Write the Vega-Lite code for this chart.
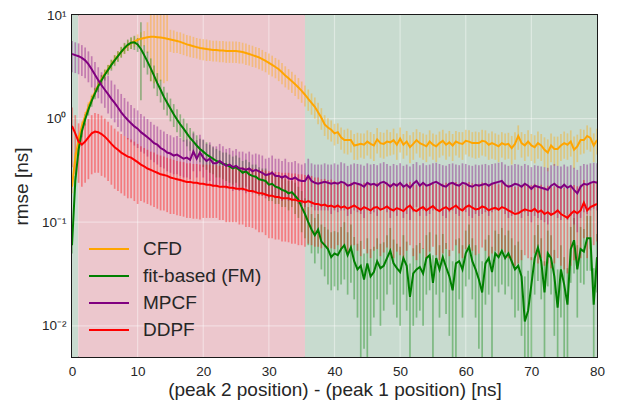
{
  "$schema": "https://vega.github.io/schema/vega-lite/v6.json",
  "width": 525,
  "height": 342,
  "autosize": "none",
  "padding": {"left": 72, "top": 15, "right": 26, "bottom": 58},
  "background": "white",
  "config": {
    "font": "Liberation Sans",
    "view": {"stroke": "#1a1a1a", "strokeWidth": 2},
    "axis": {
      "grid": false,
      "ticks": false,
      "domain": false,
      "labelFlush": false,
      "labelColor": "#262626",
      "titleColor": "#262626",
      "labelFontSize": 13.5,
      "titleFontSize": 19,
      "titleFontWeight": "normal"
    }
  },
  "datasets": {
    "regions": [
      {"a": 0, "b": 0.95, "zone": "outside"},
      {"a": 0.95, "b": 35.5, "zone": "overlap"},
      {"a": 35.5, "b": 80, "zone": "outside"}
    ],
    "xgrid": [{"gx": 10}, {"gx": 20}, {"gx": 30}, {"gx": 40}, {"gx": 50}, {"gx": 60}, {"gx": 70}],
    "ygrid": [{"gy": 0.01}, {"gy": 0.1}, {"gy": 1}],
    "rmse": [
      {"m":"CFD","x":0,"y":0.22,"lo":0.19,"hi":0.25},
      {"m":"CFD","x":0.5,"y":0.42,"lo":0.37,"hi":0.47},
      {"m":"CFD","x":1,"y":0.62,"lo":0.55,"hi":0.69},
      {"m":"CFD","x":1.5,"y":0.85,"lo":0.76,"hi":0.94},
      {"m":"CFD","x":2,"y":1.05,"lo":0.94,"hi":1.16},
      {"m":"CFD","x":2.5,"y":1.3,"lo":1.16,"hi":1.44},
      {"m":"CFD","x":3,"y":1.55,"lo":1.39,"hi":1.71},
      {"m":"CFD","x":3.5,"y":1.8,"lo":1.61,"hi":1.99},
      {"m":"CFD","x":4,"y":2.1,"lo":1.88,"hi":2.32},
      {"m":"CFD","x":4.5,"y":2.4,"lo":2.15,"hi":2.65},
      {"m":"CFD","x":5,"y":2.7,"lo":2.42,"hi":2.98},
      {"m":"CFD","x":5.5,"y":3.0,"lo":2.69,"hi":3.31},
      {"m":"CFD","x":6,"y":3.35,"lo":3.0,"hi":3.7},
      {"m":"CFD","x":6.5,"y":3.7,"lo":3.3,"hi":4.1},
      {"m":"CFD","x":7,"y":4.05,"lo":3.6,"hi":4.5},
      {"m":"CFD","x":7.5,"y":4.4,"lo":3.9,"hi":4.9},
      {"m":"CFD","x":8,"y":4.75,"lo":4.2,"hi":5.3},
      {"m":"CFD","x":8.5,"y":5.1,"lo":4.5,"hi":5.7},
      {"m":"CFD","x":9,"y":5.35,"lo":4.7,"hi":6.0},
      {"m":"CFD","x":9.5,"y":5.55,"lo":4.9,"hi":6.2},
      {"m":"CFD","x":10,"y":5.75,"lo":5.0,"hi":6.5},
      {"m":"CFD","x":10.5,"y":5.9,"lo":5.0,"hi":6.8},
      {"m":"CFD","x":11,"y":6.0,"lo":5.0,"hi":7.0},
      {"m":"CFD","x":11.5,"y":6.1,"lo":4.3,"hi":8.5},
      {"m":"CFD","x":12,"y":6.15,"lo":2.3,"hi":12.5},
      {"m":"CFD","x":12.5,"y":6.15,"lo":2.2,"hi":13},
      {"m":"CFD","x":13,"y":6.1,"lo":2.2,"hi":13},
      {"m":"CFD","x":13.5,"y":6.05,"lo":2.3,"hi":12.5},
      {"m":"CFD","x":14,"y":6.0,"lo":2.2,"hi":12.8},
      {"m":"CFD","x":14.5,"y":5.9,"lo":2.3,"hi":12},
      {"m":"CFD","x":15,"y":5.8,"lo":4.4,"hi":7.2},
      {"m":"CFD","x":15.5,"y":5.7,"lo":4.3,"hi":7.1},
      {"m":"CFD","x":16,"y":5.6,"lo":4.3,"hi":6.9},
      {"m":"CFD","x":16.5,"y":5.5,"lo":4.2,"hi":6.8},
      {"m":"CFD","x":17,"y":5.35,"lo":4.1,"hi":6.6},
      {"m":"CFD","x":17.5,"y":5.2,"lo":4.0,"hi":6.4},
      {"m":"CFD","x":18,"y":5.1,"lo":3.9,"hi":6.3},
      {"m":"CFD","x":18.5,"y":5.0,"lo":3.85,"hi":6.15},
      {"m":"CFD","x":19,"y":4.9,"lo":3.8,"hi":6.0},
      {"m":"CFD","x":19.5,"y":4.8,"lo":3.7,"hi":5.9},
      {"m":"CFD","x":20,"y":4.75,"lo":3.65,"hi":5.85},
      {"m":"CFD","x":20.5,"y":4.7,"lo":3.6,"hi":5.8},
      {"m":"CFD","x":21,"y":4.65,"lo":3.6,"hi":5.7},
      {"m":"CFD","x":21.5,"y":4.6,"lo":3.55,"hi":5.65},
      {"m":"CFD","x":22,"y":4.6,"lo":3.55,"hi":5.65},
      {"m":"CFD","x":22.5,"y":4.55,"lo":3.5,"hi":5.6},
      {"m":"CFD","x":23,"y":4.55,"lo":3.5,"hi":5.6},
      {"m":"CFD","x":23.5,"y":4.5,"lo":3.45,"hi":5.55},
      {"m":"CFD","x":24,"y":4.5,"lo":3.45,"hi":5.55},
      {"m":"CFD","x":24.5,"y":4.5,"lo":3.45,"hi":5.55},
      {"m":"CFD","x":25,"y":4.5,"lo":3.45,"hi":5.55},
      {"m":"CFD","x":25.5,"y":4.45,"lo":3.4,"hi":5.5},
      {"m":"CFD","x":26,"y":4.4,"lo":3.4,"hi":5.4},
      {"m":"CFD","x":26.5,"y":4.3,"lo":3.3,"hi":5.3},
      {"m":"CFD","x":27,"y":4.2,"lo":3.25,"hi":5.15},
      {"m":"CFD","x":27.5,"y":4.1,"lo":3.15,"hi":5.05},
      {"m":"CFD","x":28,"y":4.0,"lo":3.1,"hi":4.9},
      {"m":"CFD","x":28.5,"y":3.9,"lo":3.0,"hi":4.8},
      {"m":"CFD","x":29,"y":3.75,"lo":2.9,"hi":4.6},
      {"m":"CFD","x":29.5,"y":3.6,"lo":2.8,"hi":4.4},
      {"m":"CFD","x":30,"y":3.45,"lo":2.65,"hi":4.25},
      {"m":"CFD","x":30.5,"y":3.3,"lo":2.55,"hi":4.05},
      {"m":"CFD","x":31,"y":3.15,"lo":2.45,"hi":3.85},
      {"m":"CFD","x":31.5,"y":3.0,"lo":2.3,"hi":3.7},
      {"m":"CFD","x":32,"y":2.8,"lo":2.15,"hi":3.45},
      {"m":"CFD","x":32.5,"y":2.6,"lo":2.0,"hi":3.2},
      {"m":"CFD","x":33,"y":2.45,"lo":1.9,"hi":3.0},
      {"m":"CFD","x":33.5,"y":2.3,"lo":1.77,"hi":2.83},
      {"m":"CFD","x":34,"y":2.15,"lo":1.65,"hi":2.65},
      {"m":"CFD","x":34.5,"y":2.0,"lo":1.54,"hi":2.46},
      {"m":"CFD","x":35,"y":1.85,"lo":1.42,"hi":2.28},
      {"m":"CFD","x":35.5,"y":1.7,"lo":1.31,"hi":2.09},
      {"m":"CFD","x":36,"y":1.55,"lo":1.19,"hi":1.91},
      {"m":"CFD","x":36.5,"y":1.42,"lo":1.09,"hi":1.75},
      {"m":"CFD","x":37,"y":1.3,"lo":1.0,"hi":1.6},
      {"m":"CFD","x":37.5,"y":1.15,"lo":0.88,"hi":1.42},
      {"m":"CFD","x":38,"y":1.02,"lo":0.78,"hi":1.26},
      {"m":"CFD","x":38.5,"y":0.88,"lo":0.68,"hi":1.08},
      {"m":"CFD","x":39,"y":0.82,"lo":0.63,"hi":1.01},
      {"m":"CFD","x":39.5,"y":0.78,"lo":0.6,"hi":0.96},
      {"m":"CFD","x":40,"y":0.72,"lo":0.55,"hi":0.89},
      {"m":"CFD","x":40.5,"y":0.74,"lo":0.57,"hi":0.9},
      {"m":"CFD","x":41,"y":0.66,"lo":0.5,"hi":0.82},
      {"m":"CFD","x":41.5,"y":0.62,"lo":0.46,"hi":0.78},
      {"m":"CFD","x":42,"y":0.62,"lo":0.45,"hi":0.8},
      {"m":"CFD","x":42.5,"y":0.62,"lo":0.47,"hi":0.77},
      {"m":"CFD","x":43,"y":0.55,"lo":0.4,"hi":0.71},
      {"m":"CFD","x":43.5,"y":0.56,"lo":0.4,"hi":0.73},
      {"m":"CFD","x":44,"y":0.57,"lo":0.42,"hi":0.72},
      {"m":"CFD","x":44.5,"y":0.56,"lo":0.41,"hi":0.72},
      {"m":"CFD","x":45,"y":0.6,"lo":0.44,"hi":0.77},
      {"m":"CFD","x":45.5,"y":0.57,"lo":0.41,"hi":0.74},
      {"m":"CFD","x":46,"y":0.55,"lo":0.39,"hi":0.71},
      {"m":"CFD","x":46.5,"y":0.63,"lo":0.46,"hi":0.81},
      {"m":"CFD","x":47,"y":0.58,"lo":0.42,"hi":0.74},
      {"m":"CFD","x":47.5,"y":0.57,"lo":0.41,"hi":0.73},
      {"m":"CFD","x":48,"y":0.6,"lo":0.43,"hi":0.78},
      {"m":"CFD","x":48.5,"y":0.59,"lo":0.44,"hi":0.74},
      {"m":"CFD","x":49,"y":0.62,"lo":0.45,"hi":0.8},
      {"m":"CFD","x":49.5,"y":0.56,"lo":0.4,"hi":0.72},
      {"m":"CFD","x":50,"y":0.64,"lo":0.47,"hi":0.82},
      {"m":"CFD","x":50.5,"y":0.56,"lo":0.41,"hi":0.71},
      {"m":"CFD","x":51,"y":0.6,"lo":0.44,"hi":0.76},
      {"m":"CFD","x":51.5,"y":0.53,"lo":0.37,"hi":0.69},
      {"m":"CFD","x":52,"y":0.57,"lo":0.4,"hi":0.74},
      {"m":"CFD","x":52.5,"y":0.62,"lo":0.46,"hi":0.79},
      {"m":"CFD","x":53,"y":0.58,"lo":0.42,"hi":0.74},
      {"m":"CFD","x":53.5,"y":0.56,"lo":0.4,"hi":0.72},
      {"m":"CFD","x":54,"y":0.54,"lo":0.38,"hi":0.7},
      {"m":"CFD","x":54.5,"y":0.6,"lo":0.43,"hi":0.77},
      {"m":"CFD","x":55,"y":0.56,"lo":0.4,"hi":0.72},
      {"m":"CFD","x":55.5,"y":0.54,"lo":0.38,"hi":0.7},
      {"m":"CFD","x":56,"y":0.58,"lo":0.42,"hi":0.75},
      {"m":"CFD","x":56.5,"y":0.61,"lo":0.44,"hi":0.78},
      {"m":"CFD","x":57,"y":0.56,"lo":0.4,"hi":0.72},
      {"m":"CFD","x":57.5,"y":0.59,"lo":0.43,"hi":0.76},
      {"m":"CFD","x":58,"y":0.55,"lo":0.39,"hi":0.71},
      {"m":"CFD","x":58.5,"y":0.6,"lo":0.44,"hi":0.76},
      {"m":"CFD","x":59,"y":0.58,"lo":0.42,"hi":0.74},
      {"m":"CFD","x":59.5,"y":0.57,"lo":0.4,"hi":0.74},
      {"m":"CFD","x":60,"y":0.61,"lo":0.45,"hi":0.78},
      {"m":"CFD","x":60.5,"y":0.6,"lo":0.43,"hi":0.77},
      {"m":"CFD","x":61,"y":0.58,"lo":0.42,"hi":0.74},
      {"m":"CFD","x":61.5,"y":0.58,"lo":0.41,"hi":0.75},
      {"m":"CFD","x":62,"y":0.58,"lo":0.42,"hi":0.74},
      {"m":"CFD","x":62.5,"y":0.61,"lo":0.44,"hi":0.78},
      {"m":"CFD","x":63,"y":0.6,"lo":0.43,"hi":0.77},
      {"m":"CFD","x":63.5,"y":0.56,"lo":0.4,"hi":0.72},
      {"m":"CFD","x":64,"y":0.58,"lo":0.41,"hi":0.75},
      {"m":"CFD","x":64.5,"y":0.56,"lo":0.4,"hi":0.72},
      {"m":"CFD","x":65,"y":0.54,"lo":0.38,"hi":0.7},
      {"m":"CFD","x":65.5,"y":0.58,"lo":0.42,"hi":0.74},
      {"m":"CFD","x":66,"y":0.56,"lo":0.4,"hi":0.72},
      {"m":"CFD","x":66.5,"y":0.57,"lo":0.41,"hi":0.73},
      {"m":"CFD","x":67,"y":0.52,"lo":0.36,"hi":0.68},
      {"m":"CFD","x":67.5,"y":0.57,"lo":0.4,"hi":0.74},
      {"m":"CFD","x":68,"y":0.68,"lo":0.5,"hi":0.86},
      {"m":"CFD","x":68.5,"y":0.58,"lo":0.42,"hi":0.74},
      {"m":"CFD","x":69,"y":0.55,"lo":0.39,"hi":0.71},
      {"m":"CFD","x":69.5,"y":0.6,"lo":0.43,"hi":0.77},
      {"m":"CFD","x":70,"y":0.55,"lo":0.39,"hi":0.71},
      {"m":"CFD","x":70.5,"y":0.53,"lo":0.37,"hi":0.69},
      {"m":"CFD","x":71,"y":0.58,"lo":0.41,"hi":0.75},
      {"m":"CFD","x":71.5,"y":0.55,"lo":0.39,"hi":0.71},
      {"m":"CFD","x":72,"y":0.5,"lo":0.34,"hi":0.66},
      {"m":"CFD","x":72.5,"y":0.47,"lo":0.31,"hi":0.63},
      {"m":"CFD","x":73,"y":0.55,"lo":0.38,"hi":0.72},
      {"m":"CFD","x":73.5,"y":0.51,"lo":0.35,"hi":0.67},
      {"m":"CFD","x":74,"y":0.51,"lo":0.35,"hi":0.67},
      {"m":"CFD","x":74.5,"y":0.55,"lo":0.39,"hi":0.71},
      {"m":"CFD","x":75,"y":0.58,"lo":0.41,"hi":0.75},
      {"m":"CFD","x":75.5,"y":0.56,"lo":0.4,"hi":0.72},
      {"m":"CFD","x":76,"y":0.6,"lo":0.43,"hi":0.77},
      {"m":"CFD","x":76.5,"y":0.5,"lo":0.33,"hi":0.67},
      {"m":"CFD","x":77,"y":0.54,"lo":0.38,"hi":0.7},
      {"m":"CFD","x":77.5,"y":0.62,"lo":0.45,"hi":0.79},
      {"m":"CFD","x":78,"y":0.62,"lo":0.46,"hi":0.78},
      {"m":"CFD","x":78.5,"y":0.68,"lo":0.5,"hi":0.86},
      {"m":"CFD","x":79,"y":0.65,"lo":0.48,"hi":0.82},
      {"m":"CFD","x":79.5,"y":0.55,"lo":0.38,"hi":0.72},
      {"m":"CFD","x":80,"y":0.62,"lo":0.45,"hi":0.8},

      {"m":"fit-based (FM)","x":0,"y":0.06,"lo":0.05,"hi":0.07},
      {"m":"fit-based (FM)","x":0.5,"y":0.25,"lo":0.22,"hi":0.28},
      {"m":"fit-based (FM)","x":1,"y":0.5,"lo":0.44,"hi":0.56},
      {"m":"fit-based (FM)","x":1.5,"y":0.75,"lo":0.66,"hi":0.84},
      {"m":"fit-based (FM)","x":2,"y":0.98,"lo":0.86,"hi":1.1},
      {"m":"fit-based (FM)","x":2.5,"y":1.22,"lo":1.07,"hi":1.37},
      {"m":"fit-based (FM)","x":3,"y":1.48,"lo":1.3,"hi":1.66},
      {"m":"fit-based (FM)","x":3.5,"y":1.75,"lo":1.54,"hi":1.96},
      {"m":"fit-based (FM)","x":4,"y":2.05,"lo":1.8,"hi":2.3},
      {"m":"fit-based (FM)","x":4.5,"y":2.35,"lo":2.07,"hi":2.63},
      {"m":"fit-based (FM)","x":5,"y":2.65,"lo":2.33,"hi":2.97},
      {"m":"fit-based (FM)","x":5.5,"y":2.95,"lo":2.6,"hi":3.3},
      {"m":"fit-based (FM)","x":6,"y":3.3,"lo":2.9,"hi":3.7},
      {"m":"fit-based (FM)","x":6.5,"y":3.65,"lo":3.21,"hi":4.09},
      {"m":"fit-based (FM)","x":7,"y":4.0,"lo":3.52,"hi":4.48},
      {"m":"fit-based (FM)","x":7.5,"y":4.4,"lo":3.87,"hi":4.93},
      {"m":"fit-based (FM)","x":8,"y":4.8,"lo":4.22,"hi":5.38},
      {"m":"fit-based (FM)","x":8.5,"y":5.15,"lo":4.5,"hi":5.8},
      {"m":"fit-based (FM)","x":9,"y":5.4,"lo":4.7,"hi":6.1},
      {"m":"fit-based (FM)","x":9.5,"y":5.45,"lo":4.6,"hi":6.3},
      {"m":"fit-based (FM)","x":10,"y":5.2,"lo":4.4,"hi":6.0},
      {"m":"fit-based (FM)","x":10.5,"y":4.7,"lo":1.5,"hi":8.5},
      {"m":"fit-based (FM)","x":11,"y":4.1,"lo":3.1,"hi":5.1},
      {"m":"fit-based (FM)","x":11.5,"y":3.55,"lo":2.66,"hi":4.44},
      {"m":"fit-based (FM)","x":12,"y":3.05,"lo":2.29,"hi":3.81},
      {"m":"fit-based (FM)","x":12.5,"y":2.6,"lo":1.95,"hi":3.25},
      {"m":"fit-based (FM)","x":13,"y":2.2,"lo":1.65,"hi":2.75},
      {"m":"fit-based (FM)","x":13.5,"y":1.9,"lo":1.43,"hi":2.38},
      {"m":"fit-based (FM)","x":14,"y":1.62,"lo":1.22,"hi":2.03},
      {"m":"fit-based (FM)","x":14.5,"y":1.42,"lo":1.07,"hi":1.78},
      {"m":"fit-based (FM)","x":15,"y":1.25,"lo":0.94,"hi":1.56},
      {"m":"fit-based (FM)","x":15.5,"y":1.1,"lo":0.83,"hi":1.38},
      {"m":"fit-based (FM)","x":16,"y":0.98,"lo":0.74,"hi":1.23},
      {"m":"fit-based (FM)","x":16.5,"y":0.88,"lo":0.66,"hi":1.1},
      {"m":"fit-based (FM)","x":17,"y":0.8,"lo":0.6,"hi":1.0},
      {"m":"fit-based (FM)","x":17.5,"y":0.72,"lo":0.54,"hi":0.9},
      {"m":"fit-based (FM)","x":18,"y":0.65,"lo":0.49,"hi":0.81},
      {"m":"fit-based (FM)","x":18.5,"y":0.6,"lo":0.45,"hi":0.75},
      {"m":"fit-based (FM)","x":19,"y":0.55,"lo":0.41,"hi":0.69},
      {"m":"fit-based (FM)","x":19.5,"y":0.51,"lo":0.38,"hi":0.64},
      {"m":"fit-based (FM)","x":20,"y":0.48,"lo":0.34,"hi":0.62},
      {"m":"fit-based (FM)","x":20.5,"y":0.45,"lo":0.32,"hi":0.59},
      {"m":"fit-based (FM)","x":21,"y":0.43,"lo":0.3,"hi":0.56},
      {"m":"fit-based (FM)","x":21.5,"y":0.41,"lo":0.29,"hi":0.53},
      {"m":"fit-based (FM)","x":22,"y":0.39,"lo":0.27,"hi":0.51},
      {"m":"fit-based (FM)","x":22.5,"y":0.38,"lo":0.27,"hi":0.49},
      {"m":"fit-based (FM)","x":23,"y":0.365,"lo":0.26,"hi":0.47},
      {"m":"fit-based (FM)","x":23.5,"y":0.36,"lo":0.25,"hi":0.47},
      {"m":"fit-based (FM)","x":24,"y":0.345,"lo":0.24,"hi":0.45},
      {"m":"fit-based (FM)","x":24.5,"y":0.33,"lo":0.23,"hi":0.43},
      {"m":"fit-based (FM)","x":25,"y":0.34,"lo":0.24,"hi":0.44},
      {"m":"fit-based (FM)","x":25.5,"y":0.32,"lo":0.22,"hi":0.42},
      {"m":"fit-based (FM)","x":26,"y":0.3,"lo":0.21,"hi":0.39},
      {"m":"fit-based (FM)","x":26.5,"y":0.31,"lo":0.22,"hi":0.4},
      {"m":"fit-based (FM)","x":27,"y":0.29,"lo":0.2,"hi":0.38},
      {"m":"fit-based (FM)","x":27.5,"y":0.28,"lo":0.2,"hi":0.36},
      {"m":"fit-based (FM)","x":28,"y":0.275,"lo":0.19,"hi":0.36},
      {"m":"fit-based (FM)","x":28.5,"y":0.26,"lo":0.18,"hi":0.34},
      {"m":"fit-based (FM)","x":29,"y":0.255,"lo":0.18,"hi":0.33},
      {"m":"fit-based (FM)","x":29.5,"y":0.25,"lo":0.18,"hi":0.33},
      {"m":"fit-based (FM)","x":30,"y":0.23,"lo":0.16,"hi":0.3},
      {"m":"fit-based (FM)","x":30.5,"y":0.235,"lo":0.16,"hi":0.31},
      {"m":"fit-based (FM)","x":31,"y":0.22,"lo":0.15,"hi":0.29},
      {"m":"fit-based (FM)","x":31.5,"y":0.215,"lo":0.15,"hi":0.28},
      {"m":"fit-based (FM)","x":32,"y":0.205,"lo":0.14,"hi":0.27},
      {"m":"fit-based (FM)","x":32.5,"y":0.2,"lo":0.14,"hi":0.26},
      {"m":"fit-based (FM)","x":33,"y":0.19,"lo":0.13,"hi":0.25},
      {"m":"fit-based (FM)","x":33.5,"y":0.195,"lo":0.14,"hi":0.25},
      {"m":"fit-based (FM)","x":34,"y":0.18,"lo":0.12,"hi":0.24},
      {"m":"fit-based (FM)","x":34.5,"y":0.165,"lo":0.11,"hi":0.22},
      {"m":"fit-based (FM)","x":35,"y":0.14,"lo":0.08,"hi":0.2},
      {"m":"fit-based (FM)","x":35.5,"y":0.12,"lo":0.07,"hi":0.17},
      {"m":"fit-based (FM)","x":36,"y":0.1,"lo":0.06,"hi":0.14},
      {"m":"fit-based (FM)","x":36.5,"y":0.085,"lo":0.05,"hi":0.12},
      {"m":"fit-based (FM)","x":37,"y":0.075,"lo":0.04,"hi":0.11},
      {"m":"fit-based (FM)","x":37.5,"y":0.085,"lo":0.05,"hi":0.12},
      {"m":"fit-based (FM)","x":38,"y":0.065,"lo":0.035,"hi":0.095},
      {"m":"fit-based (FM)","x":38.5,"y":0.06,"lo":0.03,"hi":0.09},
      {"m":"fit-based (FM)","x":39,"y":0.055,"lo":0.025,"hi":0.085},
      {"m":"fit-based (FM)","x":39.5,"y":0.046,"lo":0.022,"hi":0.08},
      {"m":"fit-based (FM)","x":40,"y":0.05,"lo":0.024,"hi":0.082},
      {"m":"fit-based (FM)","x":40.5,"y":0.048,"lo":0.022,"hi":0.08},
      {"m":"fit-based (FM)","x":41,"y":0.055,"lo":0.025,"hi":0.09},
      {"m":"fit-based (FM)","x":41.5,"y":0.06,"lo":0.028,"hi":0.1},
      {"m":"fit-based (FM)","x":42,"y":0.048,"lo":0.02,"hi":0.08},
      {"m":"fit-based (FM)","x":42.5,"y":0.057,"lo":0.026,"hi":0.095},
      {"m":"fit-based (FM)","x":43,"y":0.042,"lo":0.018,"hi":0.072},
      {"m":"fit-based (FM)","x":43.5,"y":0.035,"lo":0.012,"hi":0.062},
      {"m":"fit-based (FM)","x":44,"y":0.038,"lo":0.001,"hi":0.066},
      {"m":"fit-based (FM)","x":44.5,"y":0.028,"lo":0.006,"hi":0.05},
      {"m":"fit-based (FM)","x":45,"y":0.04,"lo":0.001,"hi":0.07},
      {"m":"fit-based (FM)","x":45.5,"y":0.03,"lo":0.008,"hi":0.055},
      {"m":"fit-based (FM)","x":46,"y":0.033,"lo":0.012,"hi":0.058},
      {"m":"fit-based (FM)","x":46.5,"y":0.042,"lo":0.018,"hi":0.07},
      {"m":"fit-based (FM)","x":47,"y":0.036,"lo":0.01,"hi":0.062},
      {"m":"fit-based (FM)","x":47.5,"y":0.038,"lo":0.014,"hi":0.064},
      {"m":"fit-based (FM)","x":48,"y":0.045,"lo":0.02,"hi":0.075},
      {"m":"fit-based (FM)","x":48.5,"y":0.053,"lo":0.025,"hi":0.088},
      {"m":"fit-based (FM)","x":49,"y":0.04,"lo":0.016,"hi":0.068},
      {"m":"fit-based (FM)","x":49.5,"y":0.036,"lo":0.012,"hi":0.062},
      {"m":"fit-based (FM)","x":50,"y":0.033,"lo":0.01,"hi":0.058},
      {"m":"fit-based (FM)","x":50.5,"y":0.045,"lo":0.02,"hi":0.075},
      {"m":"fit-based (FM)","x":51,"y":0.038,"lo":0.014,"hi":0.065},
      {"m":"fit-based (FM)","x":51.5,"y":0.019,"lo":0.001,"hi":0.04},
      {"m":"fit-based (FM)","x":52,"y":0.032,"lo":0.01,"hi":0.056},
      {"m":"fit-based (FM)","x":52.5,"y":0.035,"lo":0.012,"hi":0.06},
      {"m":"fit-based (FM)","x":53,"y":0.037,"lo":0.014,"hi":0.063},
      {"m":"fit-based (FM)","x":53.5,"y":0.032,"lo":0.01,"hi":0.056},
      {"m":"fit-based (FM)","x":54,"y":0.045,"lo":0.02,"hi":0.075},
      {"m":"fit-based (FM)","x":54.5,"y":0.048,"lo":0.022,"hi":0.08},
      {"m":"fit-based (FM)","x":55,"y":0.026,"lo":0.001,"hi":0.048},
      {"m":"fit-based (FM)","x":55.5,"y":0.045,"lo":0.02,"hi":0.076},
      {"m":"fit-based (FM)","x":56,"y":0.035,"lo":0.012,"hi":0.06},
      {"m":"fit-based (FM)","x":56.5,"y":0.046,"lo":0.021,"hi":0.077},
      {"m":"fit-based (FM)","x":57,"y":0.037,"lo":0.013,"hi":0.063},
      {"m":"fit-based (FM)","x":57.5,"y":0.03,"lo":0.008,"hi":0.054},
      {"m":"fit-based (FM)","x":58,"y":0.022,"lo":0.001,"hi":0.042},
      {"m":"fit-based (FM)","x":58.5,"y":0.04,"lo":0.001,"hi":0.068},
      {"m":"fit-based (FM)","x":59,"y":0.042,"lo":0.018,"hi":0.07},
      {"m":"fit-based (FM)","x":59.5,"y":0.035,"lo":0.012,"hi":0.06},
      {"m":"fit-based (FM)","x":60,"y":0.05,"lo":0.024,"hi":0.083},
      {"m":"fit-based (FM)","x":60.5,"y":0.058,"lo":0.028,"hi":0.095},
      {"m":"fit-based (FM)","x":61,"y":0.042,"lo":0.018,"hi":0.07},
      {"m":"fit-based (FM)","x":61.5,"y":0.035,"lo":0.012,"hi":0.06},
      {"m":"fit-based (FM)","x":62,"y":0.028,"lo":0.006,"hi":0.05},
      {"m":"fit-based (FM)","x":62.5,"y":0.021,"lo":0.001,"hi":0.042},
      {"m":"fit-based (FM)","x":63,"y":0.04,"lo":0.016,"hi":0.068},
      {"m":"fit-based (FM)","x":63.5,"y":0.045,"lo":0.02,"hi":0.075},
      {"m":"fit-based (FM)","x":64,"y":0.033,"lo":0.001,"hi":0.058},
      {"m":"fit-based (FM)","x":64.5,"y":0.05,"lo":0.024,"hi":0.083},
      {"m":"fit-based (FM)","x":65,"y":0.046,"lo":0.021,"hi":0.077},
      {"m":"fit-based (FM)","x":65.5,"y":0.053,"lo":0.025,"hi":0.088},
      {"m":"fit-based (FM)","x":66,"y":0.045,"lo":0.02,"hi":0.075},
      {"m":"fit-based (FM)","x":66.5,"y":0.05,"lo":0.024,"hi":0.083},
      {"m":"fit-based (FM)","x":67,"y":0.042,"lo":0.018,"hi":0.07},
      {"m":"fit-based (FM)","x":67.5,"y":0.035,"lo":0.012,"hi":0.06},
      {"m":"fit-based (FM)","x":68,"y":0.038,"lo":0.014,"hi":0.065},
      {"m":"fit-based (FM)","x":68.5,"y":0.03,"lo":0.008,"hi":0.054},
      {"m":"fit-based (FM)","x":69,"y":0.011,"lo":0.001,"hi":0.03},
      {"m":"fit-based (FM)","x":69.5,"y":0.014,"lo":0.001,"hi":0.034},
      {"m":"fit-based (FM)","x":70,"y":0.025,"lo":0.001,"hi":0.046},
      {"m":"fit-based (FM)","x":70.5,"y":0.045,"lo":0.02,"hi":0.075},
      {"m":"fit-based (FM)","x":71,"y":0.057,"lo":0.027,"hi":0.094},
      {"m":"fit-based (FM)","x":71.5,"y":0.042,"lo":0.018,"hi":0.07},
      {"m":"fit-based (FM)","x":72,"y":0.021,"lo":0.001,"hi":0.042},
      {"m":"fit-based (FM)","x":72.5,"y":0.05,"lo":0.024,"hi":0.083},
      {"m":"fit-based (FM)","x":73,"y":0.045,"lo":0.02,"hi":0.075},
      {"m":"fit-based (FM)","x":73.5,"y":0.03,"lo":0.008,"hi":0.054},
      {"m":"fit-based (FM)","x":74,"y":0.015,"lo":0.001,"hi":0.035},
      {"m":"fit-based (FM)","x":74.5,"y":0.035,"lo":0.012,"hi":0.06},
      {"m":"fit-based (FM)","x":75,"y":0.025,"lo":0.001,"hi":0.046},
      {"m":"fit-based (FM)","x":75.5,"y":0.016,"lo":0.001,"hi":0.036},
      {"m":"fit-based (FM)","x":76,"y":0.055,"lo":0.026,"hi":0.09},
      {"m":"fit-based (FM)","x":76.5,"y":0.067,"lo":0.032,"hi":0.11},
      {"m":"fit-based (FM)","x":77,"y":0.035,"lo":0.012,"hi":0.06},
      {"m":"fit-based (FM)","x":77.5,"y":0.055,"lo":0.026,"hi":0.09},
      {"m":"fit-based (FM)","x":78,"y":0.052,"lo":0.025,"hi":0.086},
      {"m":"fit-based (FM)","x":78.5,"y":0.07,"lo":0.034,"hi":0.115},
      {"m":"fit-based (FM)","x":79,"y":0.07,"lo":0.034,"hi":0.115},
      {"m":"fit-based (FM)","x":79.5,"y":0.016,"lo":0.001,"hi":0.036},
      {"m":"fit-based (FM)","x":80,"y":0.046,"lo":0.021,"hi":0.077},

      {"m":"MPCF","x":0,"y":4.2,"lo":2.8,"hi":5.6},
      {"m":"MPCF","x":0.5,"y":4.1,"lo":2.75,"hi":5.45},
      {"m":"MPCF","x":1,"y":4.0,"lo":2.68,"hi":5.32},
      {"m":"MPCF","x":1.5,"y":3.85,"lo":2.58,"hi":5.12},
      {"m":"MPCF","x":2,"y":3.65,"lo":2.45,"hi":4.85},
      {"m":"MPCF","x":2.5,"y":3.35,"lo":2.24,"hi":4.46},
      {"m":"MPCF","x":3,"y":3.0,"lo":2.0,"hi":4.0},
      {"m":"MPCF","x":3.5,"y":2.65,"lo":1.78,"hi":3.52},
      {"m":"MPCF","x":4,"y":2.35,"lo":1.57,"hi":3.13},
      {"m":"MPCF","x":4.5,"y":2.1,"lo":1.4,"hi":2.8},
      {"m":"MPCF","x":5,"y":1.9,"lo":1.27,"hi":2.53},
      {"m":"MPCF","x":5.5,"y":1.72,"lo":1.12,"hi":2.58},
      {"m":"MPCF","x":6,"y":1.55,"lo":1.0,"hi":2.33},
      {"m":"MPCF","x":6.5,"y":1.42,"lo":0.92,"hi":2.13},
      {"m":"MPCF","x":7,"y":1.28,"lo":0.83,"hi":1.92},
      {"m":"MPCF","x":7.5,"y":1.15,"lo":0.75,"hi":1.73},
      {"m":"MPCF","x":8,"y":1.05,"lo":0.68,"hi":1.58},
      {"m":"MPCF","x":8.5,"y":0.97,"lo":0.63,"hi":1.46},
      {"m":"MPCF","x":9,"y":0.9,"lo":0.59,"hi":1.35},
      {"m":"MPCF","x":9.5,"y":0.84,"lo":0.55,"hi":1.26},
      {"m":"MPCF","x":10,"y":0.8,"lo":0.52,"hi":1.2},
      {"m":"MPCF","x":10.5,"y":0.74,"lo":0.48,"hi":1.11},
      {"m":"MPCF","x":11,"y":0.7,"lo":0.46,"hi":1.05},
      {"m":"MPCF","x":11.5,"y":0.66,"lo":0.43,"hi":0.99},
      {"m":"MPCF","x":12,"y":0.62,"lo":0.4,"hi":0.93},
      {"m":"MPCF","x":12.5,"y":0.58,"lo":0.38,"hi":0.87},
      {"m":"MPCF","x":13,"y":0.56,"lo":0.36,"hi":0.84},
      {"m":"MPCF","x":13.5,"y":0.52,"lo":0.34,"hi":0.78},
      {"m":"MPCF","x":14,"y":0.5,"lo":0.33,"hi":0.75},
      {"m":"MPCF","x":14.5,"y":0.47,"lo":0.31,"hi":0.71},
      {"m":"MPCF","x":15,"y":0.46,"lo":0.3,"hi":0.69},
      {"m":"MPCF","x":15.5,"y":0.44,"lo":0.29,"hi":0.66},
      {"m":"MPCF","x":16,"y":0.45,"lo":0.29,"hi":0.68},
      {"m":"MPCF","x":16.5,"y":0.43,"lo":0.28,"hi":0.65},
      {"m":"MPCF","x":17,"y":0.41,"lo":0.27,"hi":0.62},
      {"m":"MPCF","x":17.5,"y":0.42,"lo":0.27,"hi":0.63},
      {"m":"MPCF","x":18,"y":0.4,"lo":0.26,"hi":0.6},
      {"m":"MPCF","x":18.5,"y":0.48,"lo":0.31,"hi":0.72},
      {"m":"MPCF","x":19,"y":0.41,"lo":0.27,"hi":0.62},
      {"m":"MPCF","x":19.5,"y":0.47,"lo":0.31,"hi":0.7},
      {"m":"MPCF","x":20,"y":0.42,"lo":0.27,"hi":0.63},
      {"m":"MPCF","x":20.5,"y":0.39,"lo":0.23,"hi":0.57},
      {"m":"MPCF","x":21,"y":0.41,"lo":0.25,"hi":0.59},
      {"m":"MPCF","x":21.5,"y":0.37,"lo":0.22,"hi":0.54},
      {"m":"MPCF","x":22,"y":0.37,"lo":0.22,"hi":0.54},
      {"m":"MPCF","x":22.5,"y":0.39,"lo":0.23,"hi":0.57},
      {"m":"MPCF","x":23,"y":0.37,"lo":0.22,"hi":0.54},
      {"m":"MPCF","x":23.5,"y":0.35,"lo":0.21,"hi":0.51},
      {"m":"MPCF","x":24,"y":0.36,"lo":0.22,"hi":0.52},
      {"m":"MPCF","x":24.5,"y":0.34,"lo":0.2,"hi":0.49},
      {"m":"MPCF","x":25,"y":0.35,"lo":0.21,"hi":0.51},
      {"m":"MPCF","x":25.5,"y":0.33,"lo":0.2,"hi":0.48},
      {"m":"MPCF","x":26,"y":0.33,"lo":0.2,"hi":0.48},
      {"m":"MPCF","x":26.5,"y":0.32,"lo":0.19,"hi":0.46},
      {"m":"MPCF","x":27,"y":0.33,"lo":0.2,"hi":0.48},
      {"m":"MPCF","x":27.5,"y":0.31,"lo":0.19,"hi":0.45},
      {"m":"MPCF","x":28,"y":0.32,"lo":0.19,"hi":0.46},
      {"m":"MPCF","x":28.5,"y":0.31,"lo":0.19,"hi":0.45},
      {"m":"MPCF","x":29,"y":0.3,"lo":0.18,"hi":0.44},
      {"m":"MPCF","x":29.5,"y":0.285,"lo":0.17,"hi":0.41},
      {"m":"MPCF","x":30,"y":0.29,"lo":0.17,"hi":0.42},
      {"m":"MPCF","x":30.5,"y":0.3,"lo":0.18,"hi":0.44},
      {"m":"MPCF","x":31,"y":0.28,"lo":0.17,"hi":0.41},
      {"m":"MPCF","x":31.5,"y":0.28,"lo":0.17,"hi":0.41},
      {"m":"MPCF","x":32,"y":0.27,"lo":0.16,"hi":0.39},
      {"m":"MPCF","x":32.5,"y":0.28,"lo":0.17,"hi":0.41},
      {"m":"MPCF","x":33,"y":0.265,"lo":0.16,"hi":0.38},
      {"m":"MPCF","x":33.5,"y":0.26,"lo":0.16,"hi":0.38},
      {"m":"MPCF","x":34,"y":0.27,"lo":0.16,"hi":0.39},
      {"m":"MPCF","x":34.5,"y":0.255,"lo":0.15,"hi":0.37},
      {"m":"MPCF","x":35,"y":0.25,"lo":0.15,"hi":0.36},
      {"m":"MPCF","x":35.5,"y":0.25,"lo":0.14,"hi":0.37},
      {"m":"MPCF","x":36,"y":0.28,"lo":0.16,"hi":0.41},
      {"m":"MPCF","x":36.5,"y":0.25,"lo":0.14,"hi":0.37},
      {"m":"MPCF","x":37,"y":0.24,"lo":0.13,"hi":0.36},
      {"m":"MPCF","x":37.5,"y":0.235,"lo":0.13,"hi":0.36},
      {"m":"MPCF","x":38,"y":0.24,"lo":0.13,"hi":0.36},
      {"m":"MPCF","x":38.5,"y":0.245,"lo":0.13,"hi":0.37},
      {"m":"MPCF","x":39,"y":0.24,"lo":0.13,"hi":0.36},
      {"m":"MPCF","x":39.5,"y":0.235,"lo":0.12,"hi":0.36},
      {"m":"MPCF","x":40,"y":0.24,"lo":0.13,"hi":0.37},
      {"m":"MPCF","x":40.5,"y":0.235,"lo":0.125,"hi":0.36},
      {"m":"MPCF","x":41,"y":0.245,"lo":0.13,"hi":0.38},
      {"m":"MPCF","x":41.5,"y":0.24,"lo":0.13,"hi":0.37},
      {"m":"MPCF","x":42,"y":0.225,"lo":0.115,"hi":0.35},
      {"m":"MPCF","x":42.5,"y":0.23,"lo":0.12,"hi":0.36},
      {"m":"MPCF","x":43,"y":0.24,"lo":0.13,"hi":0.37},
      {"m":"MPCF","x":43.5,"y":0.235,"lo":0.125,"hi":0.365},
      {"m":"MPCF","x":44,"y":0.23,"lo":0.12,"hi":0.36},
      {"m":"MPCF","x":44.5,"y":0.22,"lo":0.11,"hi":0.35},
      {"m":"MPCF","x":45,"y":0.24,"lo":0.13,"hi":0.37},
      {"m":"MPCF","x":45.5,"y":0.23,"lo":0.12,"hi":0.36},
      {"m":"MPCF","x":46,"y":0.235,"lo":0.125,"hi":0.365},
      {"m":"MPCF","x":46.5,"y":0.225,"lo":0.115,"hi":0.355},
      {"m":"MPCF","x":47,"y":0.24,"lo":0.13,"hi":0.37},
      {"m":"MPCF","x":47.5,"y":0.245,"lo":0.135,"hi":0.38},
      {"m":"MPCF","x":48,"y":0.235,"lo":0.125,"hi":0.365},
      {"m":"MPCF","x":48.5,"y":0.22,"lo":0.11,"hi":0.35},
      {"m":"MPCF","x":49,"y":0.235,"lo":0.125,"hi":0.365},
      {"m":"MPCF","x":49.5,"y":0.225,"lo":0.115,"hi":0.355},
      {"m":"MPCF","x":50,"y":0.24,"lo":0.13,"hi":0.37},
      {"m":"MPCF","x":50.5,"y":0.22,"lo":0.11,"hi":0.35},
      {"m":"MPCF","x":51,"y":0.23,"lo":0.12,"hi":0.36},
      {"m":"MPCF","x":51.5,"y":0.215,"lo":0.105,"hi":0.345},
      {"m":"MPCF","x":52,"y":0.235,"lo":0.125,"hi":0.365},
      {"m":"MPCF","x":52.5,"y":0.25,"lo":0.14,"hi":0.38},
      {"m":"MPCF","x":53,"y":0.225,"lo":0.115,"hi":0.355},
      {"m":"MPCF","x":53.5,"y":0.24,"lo":0.13,"hi":0.37},
      {"m":"MPCF","x":54,"y":0.225,"lo":0.115,"hi":0.355},
      {"m":"MPCF","x":54.5,"y":0.23,"lo":0.12,"hi":0.36},
      {"m":"MPCF","x":55,"y":0.24,"lo":0.13,"hi":0.37},
      {"m":"MPCF","x":55.5,"y":0.245,"lo":0.135,"hi":0.375},
      {"m":"MPCF","x":56,"y":0.235,"lo":0.125,"hi":0.365},
      {"m":"MPCF","x":56.5,"y":0.225,"lo":0.115,"hi":0.355},
      {"m":"MPCF","x":57,"y":0.22,"lo":0.11,"hi":0.35},
      {"m":"MPCF","x":57.5,"y":0.235,"lo":0.125,"hi":0.365},
      {"m":"MPCF","x":58,"y":0.24,"lo":0.13,"hi":0.37},
      {"m":"MPCF","x":58.5,"y":0.23,"lo":0.12,"hi":0.36},
      {"m":"MPCF","x":59,"y":0.225,"lo":0.115,"hi":0.355},
      {"m":"MPCF","x":59.5,"y":0.24,"lo":0.13,"hi":0.37},
      {"m":"MPCF","x":60,"y":0.235,"lo":0.125,"hi":0.365},
      {"m":"MPCF","x":60.5,"y":0.225,"lo":0.115,"hi":0.355},
      {"m":"MPCF","x":61,"y":0.22,"lo":0.11,"hi":0.35},
      {"m":"MPCF","x":61.5,"y":0.23,"lo":0.12,"hi":0.36},
      {"m":"MPCF","x":62,"y":0.225,"lo":0.115,"hi":0.355},
      {"m":"MPCF","x":62.5,"y":0.23,"lo":0.12,"hi":0.36},
      {"m":"MPCF","x":63,"y":0.235,"lo":0.125,"hi":0.365},
      {"m":"MPCF","x":63.5,"y":0.225,"lo":0.115,"hi":0.355},
      {"m":"MPCF","x":64,"y":0.235,"lo":0.125,"hi":0.365},
      {"m":"MPCF","x":64.5,"y":0.24,"lo":0.13,"hi":0.37},
      {"m":"MPCF","x":65,"y":0.245,"lo":0.135,"hi":0.375},
      {"m":"MPCF","x":65.5,"y":0.25,"lo":0.14,"hi":0.38},
      {"m":"MPCF","x":66,"y":0.23,"lo":0.12,"hi":0.36},
      {"m":"MPCF","x":66.5,"y":0.22,"lo":0.11,"hi":0.35},
      {"m":"MPCF","x":67,"y":0.225,"lo":0.115,"hi":0.355},
      {"m":"MPCF","x":67.5,"y":0.235,"lo":0.125,"hi":0.365},
      {"m":"MPCF","x":68,"y":0.23,"lo":0.12,"hi":0.36},
      {"m":"MPCF","x":68.5,"y":0.22,"lo":0.11,"hi":0.35},
      {"m":"MPCF","x":69,"y":0.235,"lo":0.125,"hi":0.365},
      {"m":"MPCF","x":69.5,"y":0.225,"lo":0.115,"hi":0.355},
      {"m":"MPCF","x":70,"y":0.21,"lo":0.1,"hi":0.34},
      {"m":"MPCF","x":70.5,"y":0.225,"lo":0.115,"hi":0.355},
      {"m":"MPCF","x":71,"y":0.22,"lo":0.11,"hi":0.35},
      {"m":"MPCF","x":71.5,"y":0.215,"lo":0.105,"hi":0.345},
      {"m":"MPCF","x":72,"y":0.21,"lo":0.1,"hi":0.34},
      {"m":"MPCF","x":72.5,"y":0.205,"lo":0.095,"hi":0.335},
      {"m":"MPCF","x":73,"y":0.225,"lo":0.115,"hi":0.355},
      {"m":"MPCF","x":73.5,"y":0.235,"lo":0.125,"hi":0.365},
      {"m":"MPCF","x":74,"y":0.22,"lo":0.11,"hi":0.35},
      {"m":"MPCF","x":74.5,"y":0.215,"lo":0.105,"hi":0.345},
      {"m":"MPCF","x":75,"y":0.23,"lo":0.12,"hi":0.36},
      {"m":"MPCF","x":75.5,"y":0.215,"lo":0.105,"hi":0.345},
      {"m":"MPCF","x":76,"y":0.225,"lo":0.115,"hi":0.355},
      {"m":"MPCF","x":76.5,"y":0.205,"lo":0.095,"hi":0.335},
      {"m":"MPCF","x":77,"y":0.19,"lo":0.08,"hi":0.32},
      {"m":"MPCF","x":77.5,"y":0.22,"lo":0.11,"hi":0.35},
      {"m":"MPCF","x":78,"y":0.235,"lo":0.125,"hi":0.365},
      {"m":"MPCF","x":78.5,"y":0.23,"lo":0.12,"hi":0.36},
      {"m":"MPCF","x":79,"y":0.24,"lo":0.13,"hi":0.37},
      {"m":"MPCF","x":79.5,"y":0.245,"lo":0.135,"hi":0.375},
      {"m":"MPCF","x":80,"y":0.24,"lo":0.13,"hi":0.37},

      {"m":"DDPF","x":0,"y":0.85,"lo":0.34,"hi":1.28},
      {"m":"DDPF","x":0.5,"y":0.72,"lo":0.29,"hi":1.08},
      {"m":"DDPF","x":1,"y":0.6,"lo":0.24,"hi":0.9},
      {"m":"DDPF","x":1.5,"y":0.56,"lo":0.22,"hi":0.84},
      {"m":"DDPF","x":2,"y":0.6,"lo":0.24,"hi":0.9},
      {"m":"DDPF","x":2.5,"y":0.66,"lo":0.26,"hi":0.99},
      {"m":"DDPF","x":3,"y":0.72,"lo":0.29,"hi":1.08},
      {"m":"DDPF","x":3.5,"y":0.75,"lo":0.3,"hi":1.13},
      {"m":"DDPF","x":4,"y":0.74,"lo":0.3,"hi":1.11},
      {"m":"DDPF","x":4.5,"y":0.71,"lo":0.28,"hi":1.07},
      {"m":"DDPF","x":5,"y":0.67,"lo":0.27,"hi":1.0},
      {"m":"DDPF","x":5.5,"y":0.62,"lo":0.25,"hi":0.93},
      {"m":"DDPF","x":6,"y":0.57,"lo":0.23,"hi":0.86},
      {"m":"DDPF","x":6.5,"y":0.53,"lo":0.21,"hi":0.8},
      {"m":"DDPF","x":7,"y":0.5,"lo":0.2,"hi":0.75},
      {"m":"DDPF","x":7.5,"y":0.47,"lo":0.19,"hi":0.71},
      {"m":"DDPF","x":8,"y":0.45,"lo":0.18,"hi":0.68},
      {"m":"DDPF","x":8.5,"y":0.43,"lo":0.17,"hi":0.65},
      {"m":"DDPF","x":9,"y":0.42,"lo":0.17,"hi":0.63},
      {"m":"DDPF","x":9.5,"y":0.4,"lo":0.16,"hi":0.6},
      {"m":"DDPF","x":10,"y":0.38,"lo":0.15,"hi":0.57},
      {"m":"DDPF","x":10.5,"y":0.36,"lo":0.16,"hi":0.54},
      {"m":"DDPF","x":11,"y":0.345,"lo":0.155,"hi":0.52},
      {"m":"DDPF","x":11.5,"y":0.33,"lo":0.15,"hi":0.5},
      {"m":"DDPF","x":12,"y":0.32,"lo":0.145,"hi":0.48},
      {"m":"DDPF","x":12.5,"y":0.31,"lo":0.14,"hi":0.47},
      {"m":"DDPF","x":13,"y":0.3,"lo":0.135,"hi":0.45},
      {"m":"DDPF","x":13.5,"y":0.29,"lo":0.13,"hi":0.44},
      {"m":"DDPF","x":14,"y":0.285,"lo":0.13,"hi":0.43},
      {"m":"DDPF","x":14.5,"y":0.28,"lo":0.125,"hi":0.42},
      {"m":"DDPF","x":15,"y":0.27,"lo":0.12,"hi":0.41},
      {"m":"DDPF","x":15.5,"y":0.265,"lo":0.12,"hi":0.4},
      {"m":"DDPF","x":16,"y":0.26,"lo":0.117,"hi":0.39},
      {"m":"DDPF","x":16.5,"y":0.255,"lo":0.115,"hi":0.385},
      {"m":"DDPF","x":17,"y":0.25,"lo":0.113,"hi":0.38},
      {"m":"DDPF","x":17.5,"y":0.245,"lo":0.11,"hi":0.37},
      {"m":"DDPF","x":18,"y":0.245,"lo":0.11,"hi":0.37},
      {"m":"DDPF","x":18.5,"y":0.24,"lo":0.108,"hi":0.365},
      {"m":"DDPF","x":19,"y":0.24,"lo":0.108,"hi":0.365},
      {"m":"DDPF","x":19.5,"y":0.235,"lo":0.106,"hi":0.36},
      {"m":"DDPF","x":20,"y":0.235,"lo":0.11,"hi":0.36},
      {"m":"DDPF","x":20.5,"y":0.23,"lo":0.11,"hi":0.36},
      {"m":"DDPF","x":21,"y":0.23,"lo":0.11,"hi":0.36},
      {"m":"DDPF","x":21.5,"y":0.225,"lo":0.11,"hi":0.355},
      {"m":"DDPF","x":22,"y":0.225,"lo":0.11,"hi":0.355},
      {"m":"DDPF","x":22.5,"y":0.22,"lo":0.105,"hi":0.35},
      {"m":"DDPF","x":23,"y":0.22,"lo":0.105,"hi":0.35},
      {"m":"DDPF","x":23.5,"y":0.22,"lo":0.1,"hi":0.35},
      {"m":"DDPF","x":24,"y":0.215,"lo":0.1,"hi":0.345},
      {"m":"DDPF","x":24.5,"y":0.215,"lo":0.1,"hi":0.345},
      {"m":"DDPF","x":25,"y":0.21,"lo":0.1,"hi":0.34},
      {"m":"DDPF","x":25.5,"y":0.21,"lo":0.095,"hi":0.34},
      {"m":"DDPF","x":26,"y":0.21,"lo":0.095,"hi":0.34},
      {"m":"DDPF","x":26.5,"y":0.205,"lo":0.09,"hi":0.335},
      {"m":"DDPF","x":27,"y":0.2,"lo":0.09,"hi":0.33},
      {"m":"DDPF","x":27.5,"y":0.2,"lo":0.088,"hi":0.33},
      {"m":"DDPF","x":28,"y":0.195,"lo":0.085,"hi":0.325},
      {"m":"DDPF","x":28.5,"y":0.19,"lo":0.08,"hi":0.32},
      {"m":"DDPF","x":29,"y":0.19,"lo":0.08,"hi":0.32},
      {"m":"DDPF","x":29.5,"y":0.185,"lo":0.075,"hi":0.315},
      {"m":"DDPF","x":30,"y":0.18,"lo":0.07,"hi":0.31},
      {"m":"DDPF","x":30.5,"y":0.18,"lo":0.07,"hi":0.31},
      {"m":"DDPF","x":31,"y":0.175,"lo":0.068,"hi":0.305},
      {"m":"DDPF","x":31.5,"y":0.175,"lo":0.068,"hi":0.305},
      {"m":"DDPF","x":32,"y":0.17,"lo":0.065,"hi":0.3},
      {"m":"DDPF","x":32.5,"y":0.17,"lo":0.065,"hi":0.3},
      {"m":"DDPF","x":33,"y":0.17,"lo":0.064,"hi":0.3},
      {"m":"DDPF","x":33.5,"y":0.165,"lo":0.062,"hi":0.295},
      {"m":"DDPF","x":34,"y":0.165,"lo":0.062,"hi":0.295},
      {"m":"DDPF","x":34.5,"y":0.16,"lo":0.06,"hi":0.29},
      {"m":"DDPF","x":35,"y":0.16,"lo":0.06,"hi":0.29},
      {"m":"DDPF","x":35.5,"y":0.155,"lo":0.058,"hi":0.285},
      {"m":"DDPF","x":36,"y":0.16,"lo":0.062,"hi":0.285},
      {"m":"DDPF","x":36.5,"y":0.155,"lo":0.06,"hi":0.28},
      {"m":"DDPF","x":37,"y":0.15,"lo":0.058,"hi":0.27},
      {"m":"DDPF","x":37.5,"y":0.15,"lo":0.058,"hi":0.27},
      {"m":"DDPF","x":38,"y":0.145,"lo":0.056,"hi":0.26},
      {"m":"DDPF","x":38.5,"y":0.148,"lo":0.058,"hi":0.262},
      {"m":"DDPF","x":39,"y":0.142,"lo":0.055,"hi":0.255},
      {"m":"DDPF","x":39.5,"y":0.145,"lo":0.056,"hi":0.258},
      {"m":"DDPF","x":40,"y":0.14,"lo":0.055,"hi":0.25},
      {"m":"DDPF","x":40.5,"y":0.145,"lo":0.06,"hi":0.245},
      {"m":"DDPF","x":41,"y":0.138,"lo":0.053,"hi":0.238},
      {"m":"DDPF","x":41.5,"y":0.142,"lo":0.057,"hi":0.242},
      {"m":"DDPF","x":42,"y":0.135,"lo":0.05,"hi":0.235},
      {"m":"DDPF","x":42.5,"y":0.14,"lo":0.055,"hi":0.24},
      {"m":"DDPF","x":43,"y":0.145,"lo":0.06,"hi":0.245},
      {"m":"DDPF","x":43.5,"y":0.138,"lo":0.053,"hi":0.238},
      {"m":"DDPF","x":44,"y":0.132,"lo":0.047,"hi":0.232},
      {"m":"DDPF","x":44.5,"y":0.14,"lo":0.055,"hi":0.24},
      {"m":"DDPF","x":45,"y":0.135,"lo":0.05,"hi":0.235},
      {"m":"DDPF","x":45.5,"y":0.13,"lo":0.045,"hi":0.23},
      {"m":"DDPF","x":46,"y":0.138,"lo":0.053,"hi":0.238},
      {"m":"DDPF","x":46.5,"y":0.14,"lo":0.055,"hi":0.24},
      {"m":"DDPF","x":47,"y":0.132,"lo":0.047,"hi":0.232},
      {"m":"DDPF","x":47.5,"y":0.136,"lo":0.051,"hi":0.236},
      {"m":"DDPF","x":48,"y":0.142,"lo":0.057,"hi":0.242},
      {"m":"DDPF","x":48.5,"y":0.134,"lo":0.049,"hi":0.234},
      {"m":"DDPF","x":49,"y":0.13,"lo":0.045,"hi":0.23},
      {"m":"DDPF","x":49.5,"y":0.137,"lo":0.052,"hi":0.237},
      {"m":"DDPF","x":50,"y":0.133,"lo":0.048,"hi":0.233},
      {"m":"DDPF","x":50.5,"y":0.128,"lo":0.043,"hi":0.228},
      {"m":"DDPF","x":51,"y":0.138,"lo":0.053,"hi":0.238},
      {"m":"DDPF","x":51.5,"y":0.145,"lo":0.06,"hi":0.245},
      {"m":"DDPF","x":52,"y":0.132,"lo":0.047,"hi":0.232},
      {"m":"DDPF","x":52.5,"y":0.128,"lo":0.043,"hi":0.228},
      {"m":"DDPF","x":53,"y":0.135,"lo":0.05,"hi":0.235},
      {"m":"DDPF","x":53.5,"y":0.14,"lo":0.055,"hi":0.24},
      {"m":"DDPF","x":54,"y":0.13,"lo":0.045,"hi":0.23},
      {"m":"DDPF","x":54.5,"y":0.137,"lo":0.052,"hi":0.237},
      {"m":"DDPF","x":55,"y":0.143,"lo":0.058,"hi":0.243},
      {"m":"DDPF","x":55.5,"y":0.133,"lo":0.048,"hi":0.233},
      {"m":"DDPF","x":56,"y":0.128,"lo":0.043,"hi":0.228},
      {"m":"DDPF","x":56.5,"y":0.135,"lo":0.05,"hi":0.235},
      {"m":"DDPF","x":57,"y":0.14,"lo":0.055,"hi":0.24},
      {"m":"DDPF","x":57.5,"y":0.132,"lo":0.047,"hi":0.232},
      {"m":"DDPF","x":58,"y":0.138,"lo":0.053,"hi":0.238},
      {"m":"DDPF","x":58.5,"y":0.145,"lo":0.06,"hi":0.245},
      {"m":"DDPF","x":59,"y":0.135,"lo":0.05,"hi":0.235},
      {"m":"DDPF","x":59.5,"y":0.13,"lo":0.045,"hi":0.23},
      {"m":"DDPF","x":60,"y":0.14,"lo":0.055,"hi":0.24},
      {"m":"DDPF","x":60.5,"y":0.145,"lo":0.06,"hi":0.245},
      {"m":"DDPF","x":61,"y":0.138,"lo":0.053,"hi":0.238},
      {"m":"DDPF","x":61.5,"y":0.133,"lo":0.048,"hi":0.233},
      {"m":"DDPF","x":62,"y":0.135,"lo":0.05,"hi":0.235},
      {"m":"DDPF","x":62.5,"y":0.142,"lo":0.057,"hi":0.242},
      {"m":"DDPF","x":63,"y":0.138,"lo":0.053,"hi":0.238},
      {"m":"DDPF","x":63.5,"y":0.13,"lo":0.045,"hi":0.23},
      {"m":"DDPF","x":64,"y":0.135,"lo":0.05,"hi":0.235},
      {"m":"DDPF","x":64.5,"y":0.138,"lo":0.053,"hi":0.238},
      {"m":"DDPF","x":65,"y":0.132,"lo":0.047,"hi":0.232},
      {"m":"DDPF","x":65.5,"y":0.14,"lo":0.055,"hi":0.24},
      {"m":"DDPF","x":66,"y":0.136,"lo":0.051,"hi":0.236},
      {"m":"DDPF","x":66.5,"y":0.13,"lo":0.045,"hi":0.23},
      {"m":"DDPF","x":67,"y":0.125,"lo":0.04,"hi":0.225},
      {"m":"DDPF","x":67.5,"y":0.12,"lo":0.038,"hi":0.22},
      {"m":"DDPF","x":68,"y":0.122,"lo":0.04,"hi":0.222},
      {"m":"DDPF","x":68.5,"y":0.128,"lo":0.043,"hi":0.228},
      {"m":"DDPF","x":69,"y":0.133,"lo":0.048,"hi":0.233},
      {"m":"DDPF","x":69.5,"y":0.13,"lo":0.045,"hi":0.23},
      {"m":"DDPF","x":70,"y":0.128,"lo":0.043,"hi":0.228},
      {"m":"DDPF","x":70.5,"y":0.135,"lo":0.05,"hi":0.235},
      {"m":"DDPF","x":71,"y":0.125,"lo":0.04,"hi":0.225},
      {"m":"DDPF","x":71.5,"y":0.13,"lo":0.045,"hi":0.23},
      {"m":"DDPF","x":72,"y":0.12,"lo":0.038,"hi":0.22},
      {"m":"DDPF","x":72.5,"y":0.125,"lo":0.04,"hi":0.225},
      {"m":"DDPF","x":73,"y":0.118,"lo":0.036,"hi":0.218},
      {"m":"DDPF","x":73.5,"y":0.122,"lo":0.04,"hi":0.222},
      {"m":"DDPF","x":74,"y":0.13,"lo":0.045,"hi":0.23},
      {"m":"DDPF","x":74.5,"y":0.12,"lo":0.038,"hi":0.22},
      {"m":"DDPF","x":75,"y":0.115,"lo":0.035,"hi":0.215},
      {"m":"DDPF","x":75.5,"y":0.11,"lo":0.032,"hi":0.21},
      {"m":"DDPF","x":76,"y":0.12,"lo":0.038,"hi":0.22},
      {"m":"DDPF","x":76.5,"y":0.128,"lo":0.043,"hi":0.228},
      {"m":"DDPF","x":77,"y":0.122,"lo":0.04,"hi":0.222},
      {"m":"DDPF","x":77.5,"y":0.13,"lo":0.045,"hi":0.23},
      {"m":"DDPF","x":78,"y":0.155,"lo":0.07,"hi":0.255},
      {"m":"DDPF","x":78.5,"y":0.13,"lo":0.045,"hi":0.23},
      {"m":"DDPF","x":79,"y":0.14,"lo":0.055,"hi":0.24},
      {"m":"DDPF","x":79.5,"y":0.145,"lo":0.06,"hi":0.245},
      {"m":"DDPF","x":80,"y":0.15,"lo":0.065,"hi":0.25}
    ]
  },
  "encoding": {
    "x": {
      "type": "quantitative",
      "scale": {"domain": [0, 80], "nice": false},
      "axis": {
        "values": [0, 10, 20, 30, 40, 50, 60, 70, 80],
        "title": "(peak 2 position) - (peak 1 position) [ns]",
        "labelPadding": 7,
        "titlePadding": 3
      }
    },
    "y": {
      "type": "quantitative",
      "scale": {"type": "log", "domain": [0.005, 10], "nice": false},
      "axis": {
        "values": [0.01, 0.1, 1, 10],
        "labelExpr": "datum.value >= 5 ? '10¹' : datum.value >= 0.5 ? '10⁰' : datum.value >= 0.05 ? '10⁻¹' : '10⁻²'",
        "title": "rmse [ns]",
        "labelPadding": 6,
        "titlePadding": 10
      }
    }
  },
  "layer": [
    {
      "data": {"name": "regions"},
      "mark": {"type": "rect"},
      "encoding": {
        "x": {"field": "a"},
        "x2": {"field": "b"},
        "fill": {
          "field": "zone",
          "type": "nominal",
          "scale": {"domain": ["overlap", "outside"], "range": ["#ecc7cd", "#c8dbcf"]},
          "legend": null
        }
      }
    },
    {
      "data": {"name": "xgrid"},
      "mark": {"type": "rule", "color": "white", "opacity": 0.4, "strokeWidth": 1.2},
      "encoding": {"x": {"field": "gx"}}
    },
    {
      "data": {"name": "ygrid"},
      "mark": {"type": "rule", "color": "white", "opacity": 0.4, "strokeWidth": 1.2},
      "encoding": {"y": {"field": "gy"}}
    },
    {
      "data": {"name": "rmse"},
      "mark": {"type": "rule", "strokeOpacity": 0.38, "strokeWidth": 1.7, "clip": true},
      "encoding": {
        "x": {"field": "x"},
        "y": {"field": "lo"},
        "y2": {"field": "hi"},
        "color": {"field": "m", "type": "nominal"}
      }
    },
    {
      "data": {"name": "rmse"},
      "mark": {"type": "line", "strokeWidth": 2, "clip": true},
      "encoding": {
        "x": {"field": "x"},
        "y": {"field": "y"},
        "color": {
          "field": "m",
          "type": "nominal",
          "scale": {
            "domain": ["CFD", "fit-based (FM)", "MPCF", "DDPF"],
            "range": ["#ffa500", "#008000", "#800080", "#ff0000"]
          },
          "legend": {
            "title": null,
            "orient": "none",
            "legendX": 20,
            "legendY": 217,
            "symbolType": "M-1.25,0H1.25",
            "symbolSize": 1024,
            "symbolStrokeWidth": 2,
            "symbolOpacity": 1,
            "labelFontSize": 19,
            "labelColor": "#262626",
            "labelOffset": 17,
            "rowPadding": 0,
            "encode": {
              "symbols": {
                "update": {
                  "opacity": {"value": 1},
                  "strokeOpacity": {"value": 1}
                }
              }
            }
          }
        }
      }
    }
  ]
}
